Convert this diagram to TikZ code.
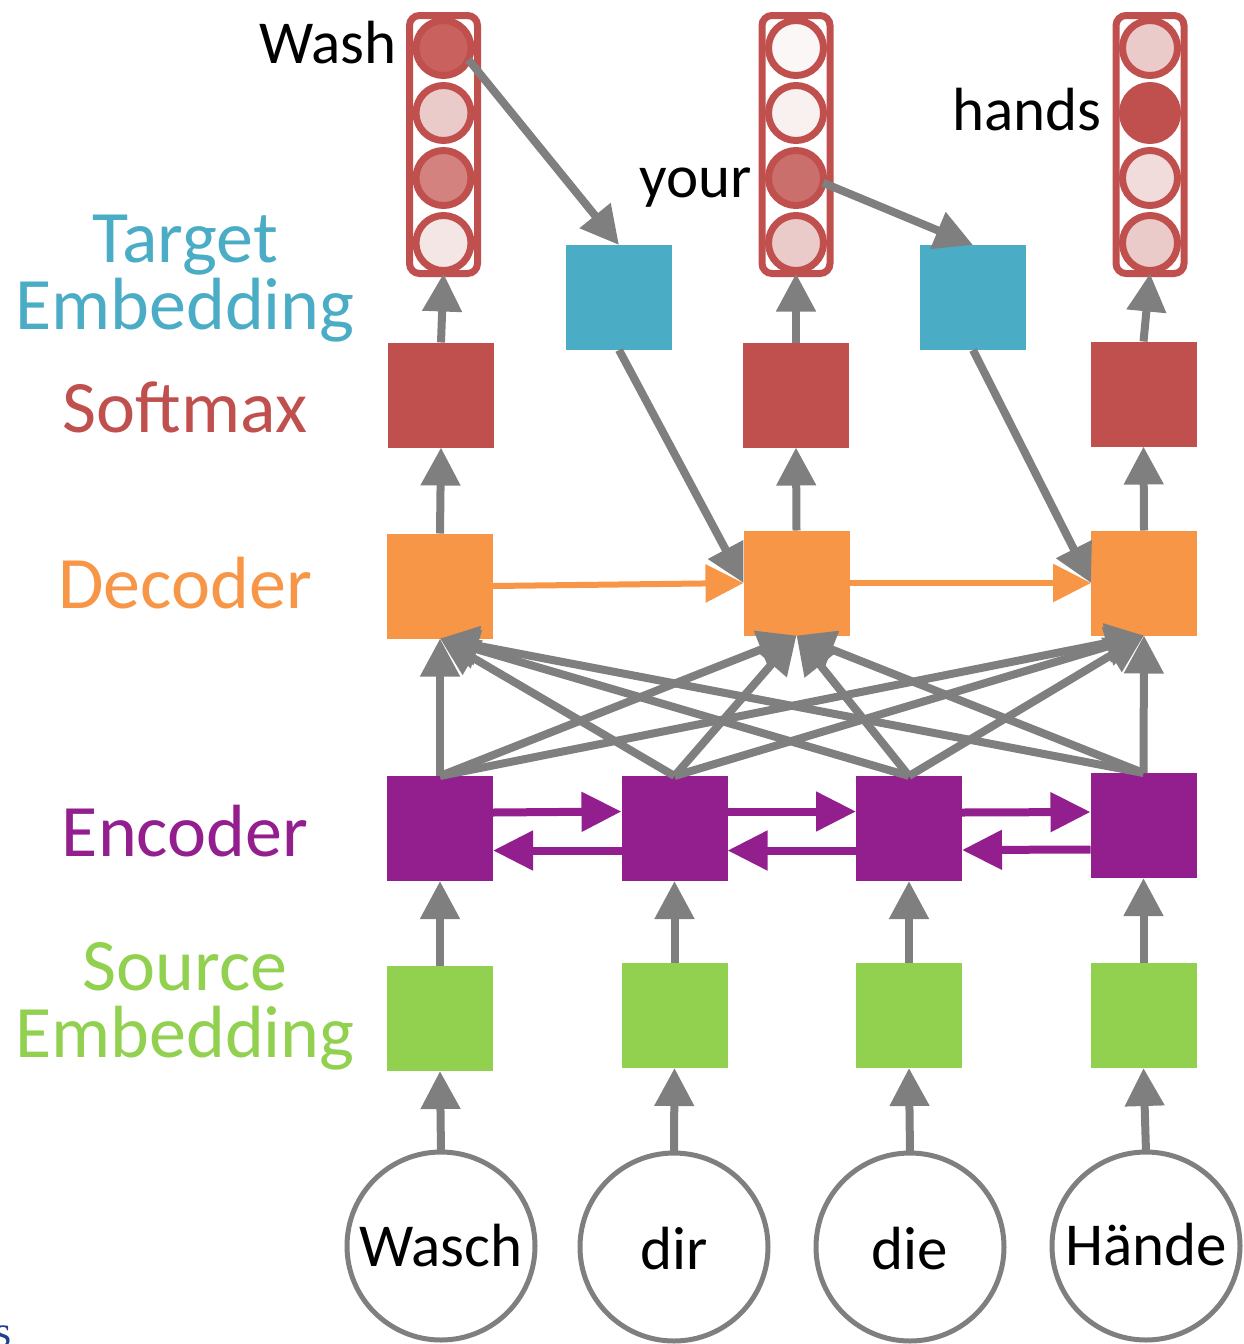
\documentclass[tikz,border=0pt]{standalone}
\usepackage{fontspec}
\setmainfont{Carlito}
\newfontfamily\serifpart{Liberation Serif}
\usetikzlibrary{arrows.meta}
\definecolor{cRed}{HTML}{C0504D}
\definecolor{cBlue}{HTML}{4BACC6}
\definecolor{cOrange}{HTML}{F79646}
\definecolor{cPurple}{HTML}{931F8F}
\definecolor{cGreen}{HTML}{92D050}
\definecolor{cGray}{HTML}{7F7F7F}
\definecolor{cNavy}{HTML}{1F3F8F}
\definecolor{pA}{HTML}{C9625F}
\definecolor{pB}{HTML}{EBCACA}
\definecolor{pC}{HTML}{D4827F}
\definecolor{pD}{HTML}{F5E6E6}
\definecolor{pE}{HTML}{FCF7F7}
\definecolor{pF}{HTML}{F9F0F0}
\definecolor{pG}{HTML}{CB6F6C}
\definecolor{pH}{HTML}{F1DCDB}
\tikzset{
  sq/.style={rectangle, minimum width=106pt, minimum height=105pt, inner sep=0pt, outer sep=0pt, draw=none},
  greenbox/.style={sq, fill=cGreen},
  encbox/.style={sq, fill=cPurple},
  decbox/.style={sq, fill=cOrange},
  smbox/.style={sq, fill=cRed},
  tembox/.style={sq, fill=cBlue},
  vecbox/.style={rectangle, rounded corners=10pt, draw=cRed, line width=7pt, minimum width=68pt, minimum height=258pt, inner sep=0pt, outer sep=0pt},
  unit/.style={circle, draw=cRed, line width=7pt, minimum size=55pt, inner sep=0pt, outer sep=0pt},
  word/.style={circle, draw=cGray, line width=5pt, minimum size=188pt, inner sep=0pt, outer sep=0pt},
  garrow/.style={draw=cGray, line width=8pt, -{Triangle[length=38pt,width=38pt]}},
  parrow/.style={draw=cPurple, line width=8pt, -{Triangle[length=40pt,width=38pt]}},
  oarrow/.style={draw=cOrange, line width=6pt, -{Triangle[length=38pt,width=37pt]}},
  biglabel/.style={font=\fontsize{74pt}{67pt}\selectfont, inner sep=0pt, anchor=base},
  wordlabel/.style={font=\fontsize{61pt}{61pt}\selectfont, inner sep=0pt},
}
\begin{document}
\begin{tikzpicture}[x=1pt,y=-1pt]
\useasboundingbox (0,0) rectangle (1244,1344);

% source words
\node[word] (w1) at (441,1246) {};
\node[word] (w2) at (674,1247) {};
\node[word] (w3) at (910,1247) {};
\node[word] (w4) at (1146,1246) {};
\node[wordlabel, anchor=base] (w1t) at (441,1266) {Wasch};
\node[wordlabel, anchor=base] (w2t) at (674,1269) {dir};
\node[wordlabel, anchor=base] (w3t) at (910,1269) {die};
\node[wordlabel, anchor=base] (w4t) at (1146,1265) {Hände};

% source embeddings
\node[greenbox] (g1) at (440,1018.5) {};
\node[greenbox] (g2) at (674.5,1015.5) {};
\node[greenbox] (g3) at (909,1015.5) {};
\node[greenbox] (g4) at (1143.5,1015.5) {};

% encoder
\node[encbox] (e1) at (440,828.5) {};
\node[encbox] (e2) at (674.5,828.5) {};
\node[encbox] (e3) at (909,828.5) {};
\node[encbox] (e4) at (1143.5,825.5) {};

% decoder
\node[decbox] (d1) at (440,586) {};
\node[decbox] (d2) at (796.5,583) {};
\node[decbox] (d3) at (1144,583) {};

% softmax
\node[smbox] (s1) at (441,395) {};
\node[smbox] (s2) at (796,395) {};
\node[smbox] (s3) at (1143.5,394) {};

% target embeddings
\node[tembox] (t1) at (619,297.5) {};
\node[tembox] (t2) at (973,297.5) {};

% output vectors
\node[vecbox] (v1) at (443.5,144.5) {};
\node[vecbox] (v2) at (796,144.5) {};
\node[vecbox] (v3) at (1150,144.5) {};
\node[unit, fill=pA] (v1a) at (443.5,48) {};
\node[unit, fill=pB] (v1b) at (443.5,113) {};
\node[unit, fill=pC] (v1c) at (443.5,178) {};
\node[unit, fill=pD] (v1d) at (443.5,243) {};
\node[unit, fill=pE] (v2a) at (796,48) {};
\node[unit, fill=pF] (v2b) at (796,113) {};
\node[unit, fill=pG] (v2c) at (796,178) {};
\node[unit, fill=pB] (v2d) at (796,243) {};
\node[unit, fill=pB] (v3a) at (1150,48) {};
\node[unit, fill=cRed] (v3b) at (1150,113) {};
\node[unit, fill=pH] (v3c) at (1150,178) {};
\node[unit, fill=pB] (v3d) at (1150,243) {};

% output words
\node[wordlabel, anchor=base east] (o1) at (397,63) {Wash};
\node[wordlabel, anchor=base east] (o2) at (752,197) {your};
\node[wordlabel, anchor=base east] (o3) at (1102,130) {hands};

% layer labels
\node[biglabel, text=cBlue] (lt1) at (185,262) {Target};
\node[biglabel, text=cBlue] (lt2) at (185,329) {Embedding};
\node[biglabel, text=cRed] (ls) at (185,432) {Softmax};
\node[biglabel, text=cOrange] (ld) at (185,608) {Decoder};
\node[biglabel, text=cPurple] (le) at (185,856) {Encoder};
\node[biglabel, text=cGreen] (lg1) at (185,990) {Source};
\node[biglabel, text=cGreen] (lg2) at (185,1057) {Embedding};

% cut-off fragment
\node[anchor=base west, inner sep=0pt, text=cNavy, font=\serifpart\fontsize{44pt}{44pt}\selectfont] (frag) at (-6,1346) {s};

% word -> source embedding
\foreach \i in {1,2,3,4} {
  \draw[garrow] (w\i.north) -- (g\i.south);
  \draw[garrow] (g\i.north) -- (e\i.south);
}

% encoder -> decoder (all pairs)
\foreach \i in {1,2,3,4} {
  \foreach \j in {1,2,3} {
    \draw[garrow] (e\i.north) -- (d\j.south);
  }
}

% encoder bidirectional
\draw[parrow] ([yshift=16pt]e1.east) -- ([yshift=17pt]e2.west);
\draw[parrow] ([yshift=-22pt]e2.west) -- ([yshift=-22pt]e1.east);
\draw[parrow] ([yshift=17pt]e2.east) -- ([yshift=17pt]e3.west);
\draw[parrow] ([yshift=-22pt]e3.west) -- ([yshift=-22pt]e2.east);
\draw[parrow] ([yshift=16pt]e3.east) -- ([yshift=13.5pt]e4.west);
\draw[parrow] ([yshift=-24pt]e4.west) -- ([yshift=-21.5pt]e3.east);

% decoder recurrence
\draw[oarrow] (d1.east) -- (d2.west);
\draw[oarrow] (d2.east) -- (d3.west);

% decoder -> softmax -> vectors
\foreach \i in {1,2,3} {
  \draw[garrow] (d\i.north) -- (s\i.south);
  \draw[garrow] (s\i.north) -- (v\i.south);
}

% feedback through target embeddings
\draw[garrow] (v1a.-25) -- (t1.north);
\draw[garrow] (v2c.-10) -- (t2.north);
\draw[garrow] (t1.south) -- (d2.west);
\draw[garrow] (t2.south) -- (d3.west);
\end{tikzpicture}
\end{document}
